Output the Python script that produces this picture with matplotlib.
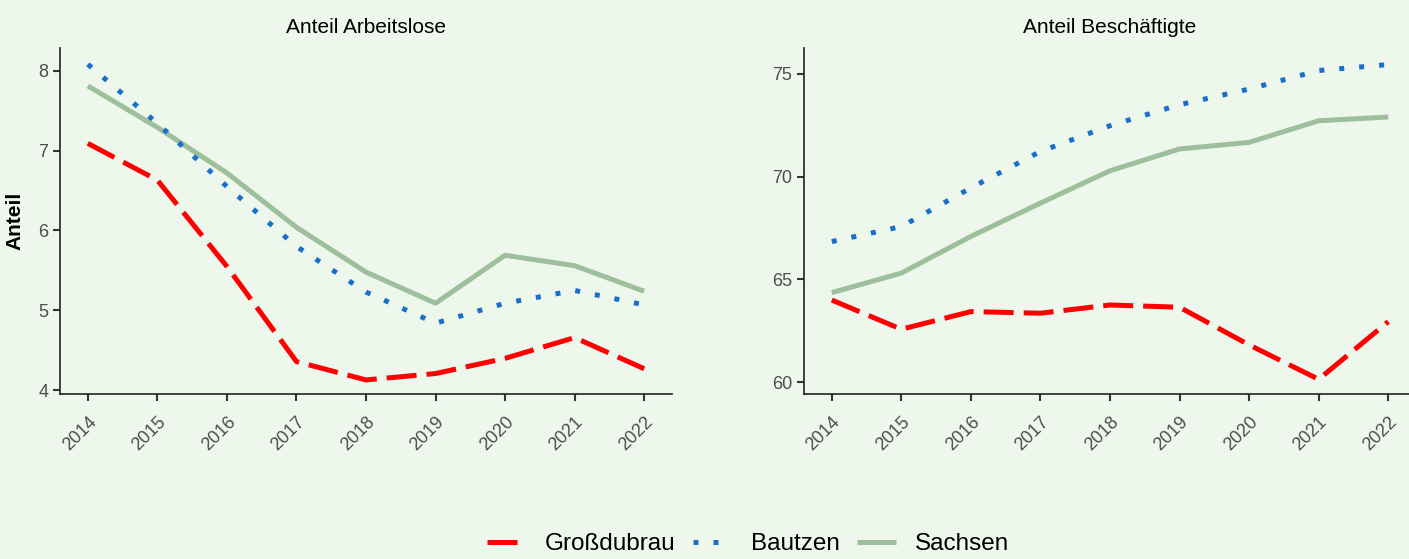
import matplotlib.pyplot as plt

years = [2014, 2015, 2016, 2017, 2018, 2019, 2020, 2021, 2022]

# Anteil Arbeitslose
alo_gross = [7.09, 6.63, 5.55, 4.36, 4.13, 4.21, 4.40, 4.66, 4.27]
alo_bautzen = [8.08, 7.34, 6.55, 5.80, 5.23, 4.84, 5.09, 5.25, 5.07]
alo_sachsen = [7.81, 7.29, 6.72, 6.04, 5.48, 5.09, 5.69, 5.56, 5.24]

# Anteil Beschäftigte
bes_gross = [64.0, 62.58, 63.44, 63.36, 63.76, 63.65, 61.82, 60.15, 62.95]
bes_bautzen = [66.84, 67.57, 69.45, 71.22, 72.47, 73.49, 74.25, 75.15, 75.44]
bes_sachsen = [64.36, 65.31, 67.09, 68.71, 70.28, 71.34, 71.66, 72.71, 72.89]

bg = '#eef7ec'
red = '#ff0000'
blue = '#1a6fcc'
green = '#9dbf9b'

plt.rcParams['font.family'] = ['Liberation Sans', 'DejaVu Sans']

fig = plt.figure(figsize=(14.09, 5.59), dpi=100, facecolor=bg)
ax1 = fig.add_axes([0.0426, 0.2946, 0.4343, 0.619])
ax2 = fig.add_axes([0.5706, 0.2946, 0.4344, 0.619])

lw = 3.6

def draw(ax, g, b, s, title, ylim, yticks):
    ax.set_facecolor(bg)
    ax.plot(years, s, color=green, lw=lw, solid_capstyle='butt', label='Sachsen', zorder=2)
    ax.plot(years, b, color=blue, lw=lw, linestyle=(0, (1, 3)), dash_capstyle='butt', label='Bautzen', zorder=3)
    ax.plot(years, g, color=red, lw=lw, linestyle=(0, (6, 2)), dash_capstyle='butt', label='Großdubrau', zorder=4)
    ax.set_xlim(2013.6, 2022.4)
    ax.set_ylim(*ylim)
    ax.set_xticks(years)
    ax.set_xticklabels([str(y) for y in years], rotation=45, ha='right', va='top',
                       rotation_mode='anchor')
    ax.set_yticks(yticks)
    ax.tick_params(colors='#333333', labelcolor='#4d4d4d', labelsize=13, length=5, width=1.5)
    ax.tick_params(axis='x', pad=9)
    for sp in ['top', 'right']:
        ax.spines[sp].set_visible(False)
    for sp in ['left', 'bottom']:
        ax.spines[sp].set_color('#222222')
        ax.spines[sp].set_linewidth(1.2)
    ax.set_title(title, fontsize=15, pad=11)

draw(ax1, alo_gross, alo_bautzen, alo_sachsen, 'Anteil Arbeitslose', (3.95, 8.28), [4, 5, 6, 7, 8])
draw(ax2, bes_gross, bes_bautzen, bes_sachsen, 'Anteil Beschäftigte', (59.42, 76.23), [60, 65, 70, 75])
ax1.set_ylabel('Anteil', fontsize=15, fontweight='bold', labelpad=10)

handles, labels = ax1.get_legend_handles_labels()
order = [2, 1, 0]
fig.legend([handles[i] for i in order], [labels[i] for i in order],
           loc='lower center', bbox_to_anchor=(0.531, -0.032), ncol=3, frameon=False,
           fontsize=17.5, handlelength=1.6, columnspacing=0.7, handletextpad=0.8)

fig.savefig('out.png', dpi=100, facecolor=bg)
